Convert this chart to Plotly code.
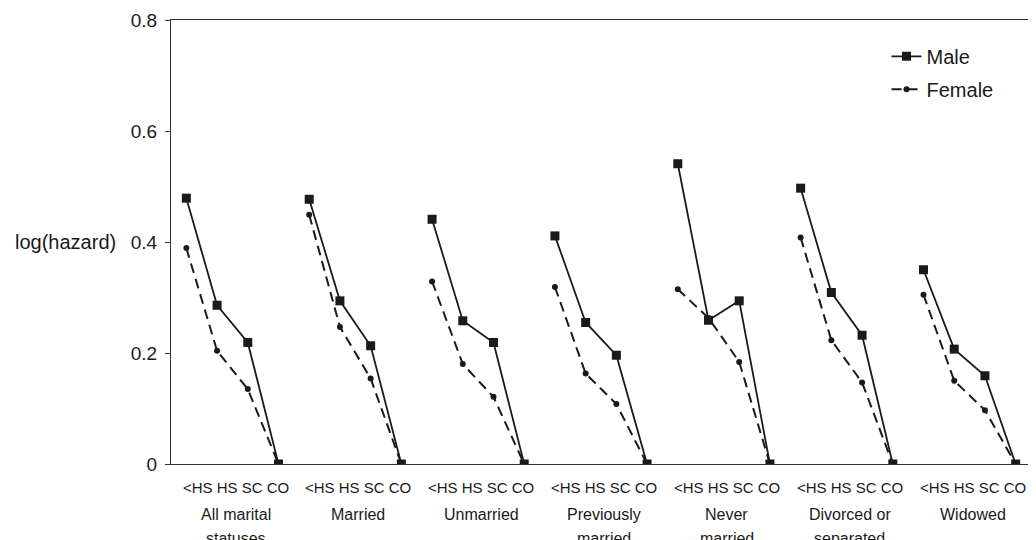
import plotly.graph_objects as go

groups = ["All marital<br>statuses", "Married", "Unmarried", "Previously<br>married",
          "Never<br>married", "Divorced or<br>separated", "Widowed"]
education = ["<HS", "HS", "SC", "CO"]

male = [
    [0.479, 0.286, 0.219, 0.0],
    [0.477, 0.294, 0.213, 0.0],
    [0.441, 0.258, 0.219, 0.0],
    [0.411, 0.255, 0.196, 0.0],
    [0.541, 0.259, 0.294, 0.0],
    [0.497, 0.309, 0.232, 0.0],
    [0.350, 0.207, 0.159, 0.0],
]
female = [
    [0.389, 0.204, 0.135, 0.0],
    [0.449, 0.247, 0.154, 0.0],
    [0.329, 0.180, 0.121, 0.0],
    [0.319, 0.163, 0.108, 0.0],
    [0.315, 0.263, 0.184, 0.0],
    [0.408, 0.223, 0.147, 0.0],
    [0.305, 0.150, 0.097, 0.0],
]
yticks = [0, 0.2, 0.4, 0.6, 0.8]
ytick_text = ["0", "0.2", "0.4", "0.6", "0.8"]

n_ed = len(education)


def build(series):
    xs, ys = [], []
    for g, vals in enumerate(series):
        for k, v in enumerate(vals):
            xs.append(g * n_ed + k)
            ys.append(v)
        xs.append(None)
        ys.append(None)
    return xs, ys


FONT = "Liberation Sans, Arial, sans-serif"
INK = "#1a1a1a"

fig = go.Figure()
fx, fy = build(female)
mx, my = build(male)
fig.add_trace(go.Scatter(
    x=fx, y=fy, mode="lines+markers", name="Female", legendgroup="f",
    line=dict(color=INK, width=2, dash="10px,6px"),
    marker=dict(symbol="circle", size=6, color=INK),
    legendrank=2,
))
fig.add_trace(go.Scatter(
    x=mx, y=my, mode="lines+markers", name="Male", legendgroup="m",
    line=dict(color=INK, width=1.8),
    marker=dict(symbol="square", size=9, color=INK),
    legendrank=1,
))

ann = []
for g, name in enumerate(groups):
    cx = g * n_ed + (n_ed - 1) / 2
    ann.append(dict(x=cx + 0.1, y=0, xref="x", yref="paper", yanchor="middle",
                    yshift=-23, text=" ".join(education), showarrow=False,
                    font=dict(family=FONT, size=15, color=INK)))
    lines = name.split("<br>")
    for i, ln in enumerate(lines):
        ann.append(dict(x=cx + 0.1, y=0, xref="x", yref="paper", yanchor="middle",
                        yshift=-50 - 24 * i, text=ln, showarrow=False,
                        font=dict(family=FONT, size=16, color=INK)))
ann.append(dict(x=0, y=0.5, xref="paper", yref="paper", xanchor="right",
                yanchor="middle", xshift=-53, text="log(hazard)", showarrow=False,
                font=dict(family=FONT, size=20, color=INK)))

fig.update_layout(
    width=1028, height=532,
    margin=dict(l=163, r=5, t=12, b=76, autoexpand=False),
    paper_bgcolor="white", plot_bgcolor="white",
    font=dict(family=FONT, color=INK),
    showlegend=True,
    legend=dict(x=0.832, y=0.962, xanchor="left", yanchor="top",
                bgcolor="rgba(0,0,0,0)", font=dict(family=FONT, size=20, color=INK),
                tracegroupgap=4, traceorder="grouped"),
    annotations=ann,
)
fig.update_xaxes(range=[-0.5, len(groups) * n_ed - 0.5], showgrid=False, zeroline=False,
                 showticklabels=False, ticks="", showline=True, mirror=True,
                 linecolor="#333333", linewidth=1.2)
fig.update_yaxes(range=[0, 0.8], tickvals=yticks, ticktext=ytick_text, showgrid=False,
                 zeroline=False, ticks="outside", ticklen=5, tickcolor="#333333",
                 showline=True, mirror=True, linecolor="#333333", linewidth=1.2,
                 tickfont=dict(family=FONT, size=19, color=INK), ticklabelstandoff=4)

fig.write_html("out.html")
